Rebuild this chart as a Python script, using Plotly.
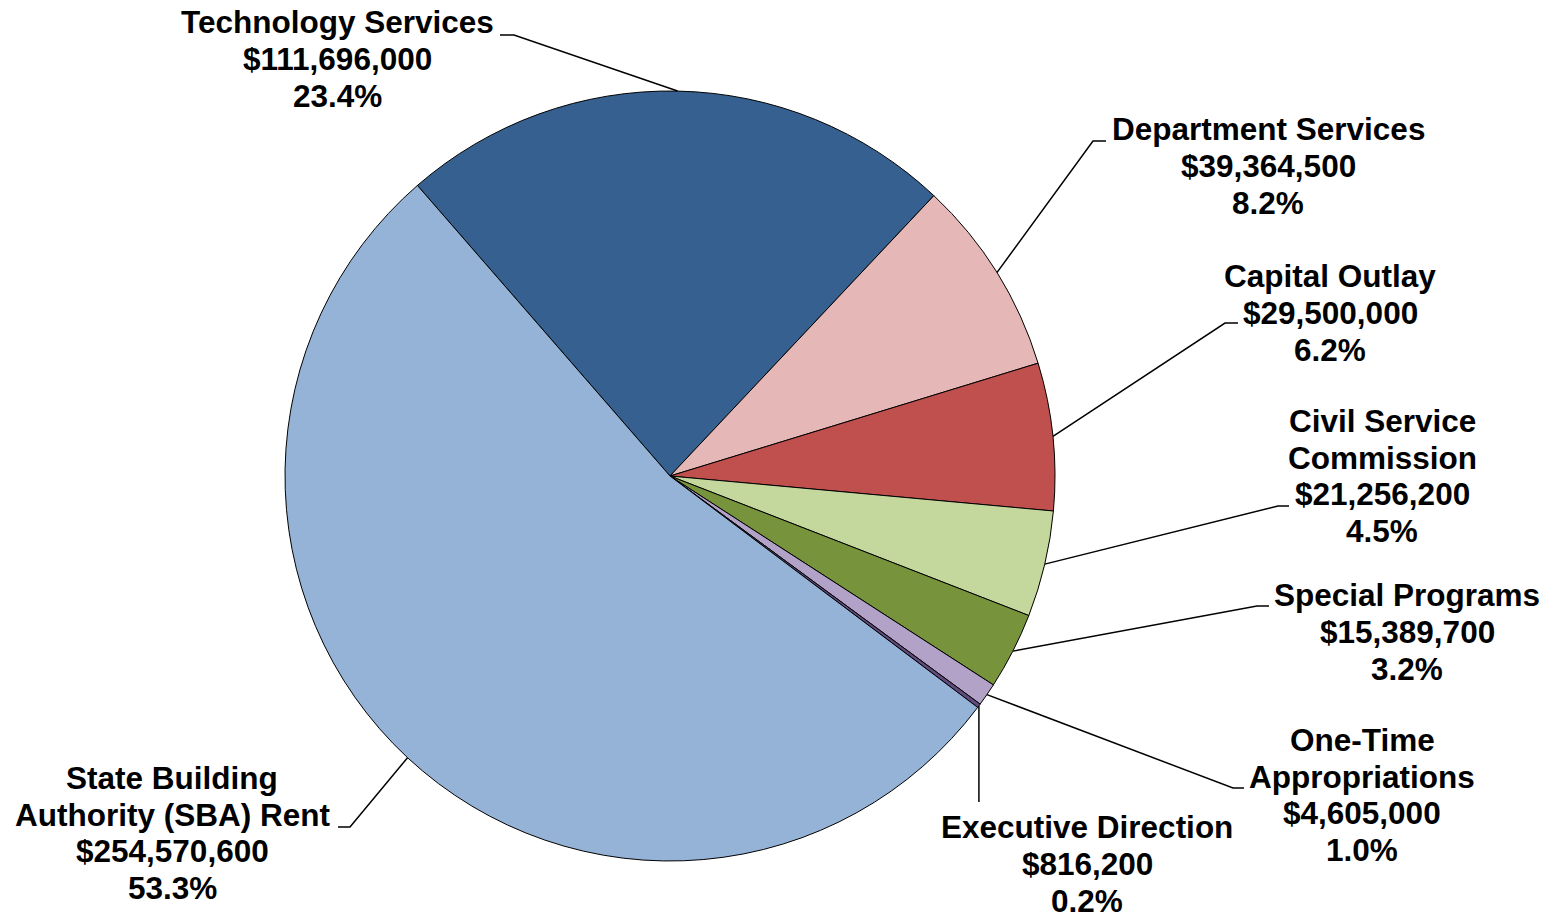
import math
import plotly.graph_objects as go

# ---- data ----
categories = ["Technology Services", "Department Services", "Capital Outlay",
              "Civil Service Commission", "Special Programs", "One-Time Appropriations",
              "Executive Direction", "State Building Authority (SBA) Rent"]
label_lines = [["Technology Services"], ["Department Services"], ["Capital Outlay"],
               ["Civil Service", "Commission"], ["Special Programs"],
               ["One-Time", "Appropriations"], ["Executive Direction"],
               ["State Building", "Authority (SBA) Rent"]]
values = [111696000, 39364500, 29500000, 21256200, 15389700, 4605000, 816200, 254570600]
colors = ["#36608F", "#E5B7B6", "#C0504D", "#C4D79C", "#77933C", "#B3A2C7", "#604A7B", "#95B3D7"]

# ---- layout (page pixels) ----
W, H = 1560, 914
PAGE_OFF = 8  # default body margin of the html page
CX, CY, R = 670, 476, 385
ROTATION = -41.0
FONT = 31.5
LINE_H = 36.7
# label block centre (x, y) and leader elbow / end points
label_center = [(337, 59), (1268, 166), (1330, 313), (1382, 476),
                (1407, 632), (1362, 795), (1087, 864), (172, 833)]
leader_elbow = [(514, 35), (1093, 141), (1225, 323), (1278, 506),
                (1257, 606), (1233, 788), None, (350, 827)]
leader_end = [(500, 35), (1106, 141), (1238, 323), (1289, 506),
              (1269, 606), (1244, 788), (979, 802), (338, 827)]

def px(x):
    return (x - PAGE_OFF) / W

def py(y):
    return 1 - (y - PAGE_OFF) / H

total = sum(values)

fig = go.Figure()
fig.add_trace(go.Pie(
    labels=categories, values=values, sort=False, direction="clockwise",
    rotation=ROTATION, textinfo="none", hoverinfo="label+value+percent",
    marker=dict(colors=colors, line=dict(color="black", width=1)),
    domain=dict(x=[px(CX - R), px(CX + R)], y=[py(CY + R), py(CY - R)]),
    showlegend=False,
))

shapes = []
annotations = []
cum = 0.0
for i, v in enumerate(values):
    mid = ROTATION + (cum + v / 2) / total * 360.0
    cum += v
    a = math.radians(mid)
    ex, ey = CX + R * math.sin(a), CY - R * math.cos(a)
    pts = [(ex, ey)]
    if leader_elbow[i] is not None:
        pts.append(leader_elbow[i])
        pts.append(leader_end[i])
    else:
        pts.append((ex, leader_end[i][1]))
    path = "M " + " L ".join(f"{px(x):.5f},{py(y):.5f}" for x, y in pts)
    shapes.append(dict(type="path", xref="paper", yref="paper", path=path,
                       line=dict(color="black", width=1.5)))

    lines = label_lines[i] + [f"${v:,.0f}", f"{v / total * 100:.1f}%"]
    lx, lyc = label_center[i]
    n = len(lines)
    for k, t in enumerate(lines):
        y = lyc + (k - (n - 1) / 2) * LINE_H
        annotations.append(dict(
            x=px(lx), y=py(y), xref="paper", yref="paper", text=f"<b>{t}</b>",
            showarrow=False, xanchor="center", yanchor="middle",
            font=dict(family="Liberation Sans, Arial, sans-serif", size=FONT, color="black"),
        ))

fig.update_layout(
    width=W, height=H, margin=dict(l=0, r=0, t=0, b=0),
    paper_bgcolor="white", plot_bgcolor="white",
    shapes=shapes, annotations=annotations,
)

fig.write_html("out.html")
